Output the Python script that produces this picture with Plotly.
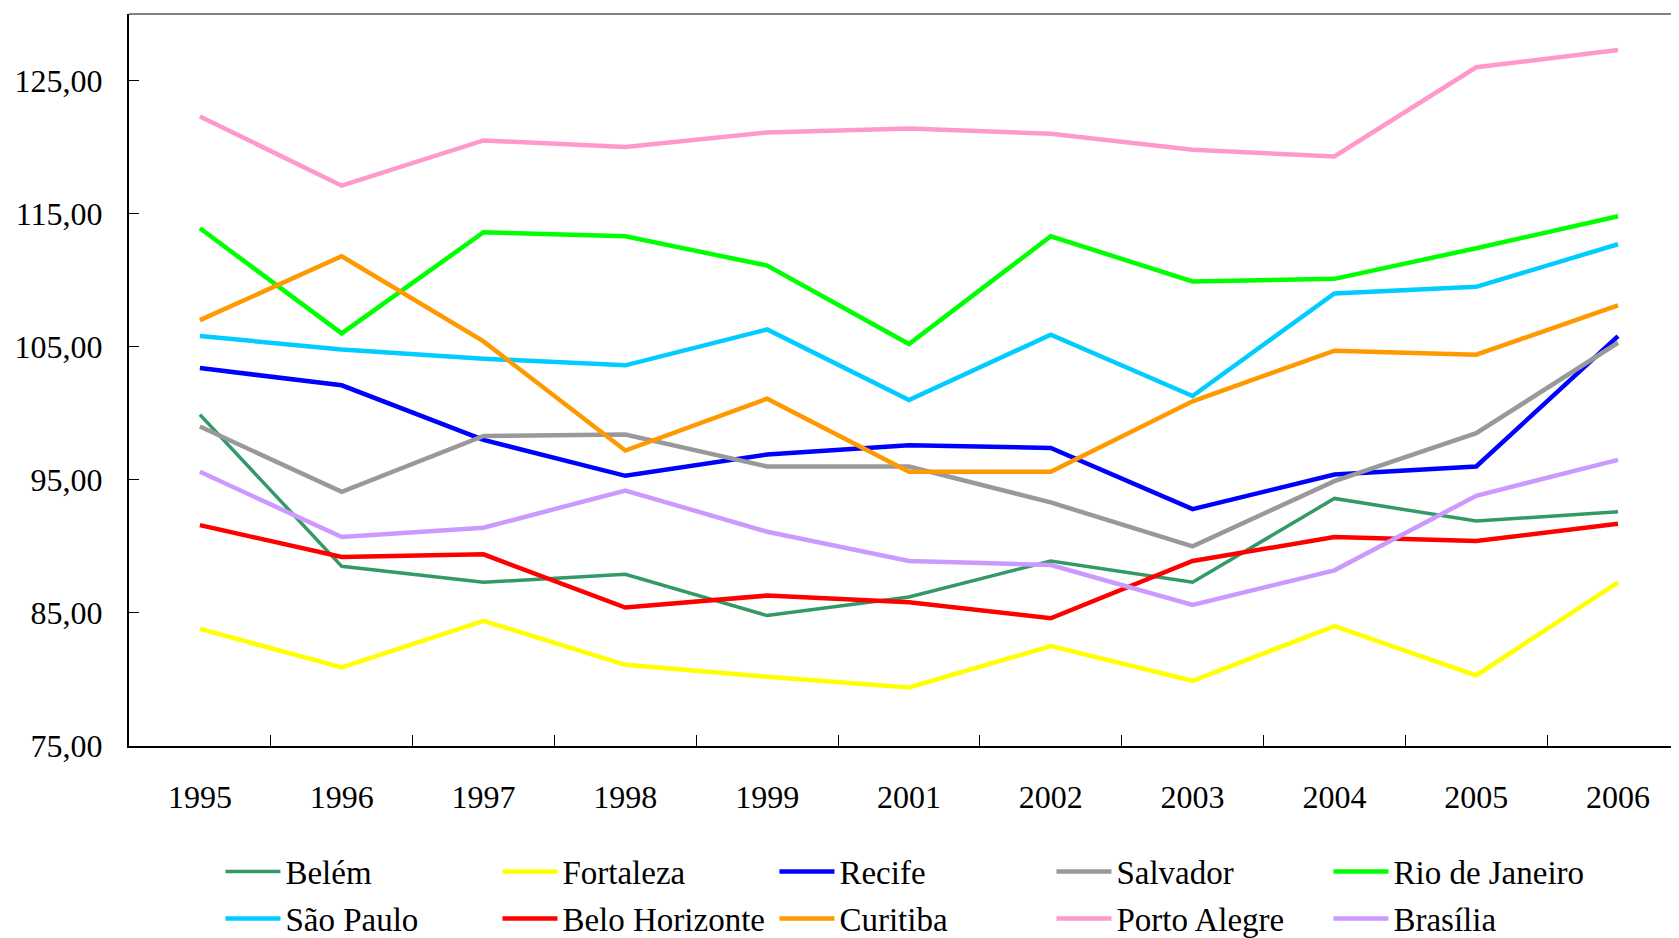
import plotly.graph_objects as go

years = ["1995", "1996", "1997", "1998", "1999", "2001", "2002", "2003", "2004", "2005", "2006"]

belem = [99.9, 88.5, 87.3, 87.9, 84.8, 86.2, 88.9, 87.3, 93.6, 91.9, 92.6]
fortaleza = [83.8, 80.9, 84.4, 81.1, 80.2, 79.4, 82.5, 79.9, 84.0, 80.3, 87.3]
recife = [103.4, 102.1, 98.0, 95.3, 96.9, 97.6, 97.4, 92.8, 95.4, 96.0, 105.8]
salvador = [99.0, 94.1, 98.3, 98.4, 96.0, 96.0, 93.3, 90.0, 94.9, 98.5, 105.3]
rio = [113.9, 106.0, 113.6, 113.3, 111.1, 105.2, 113.3, 109.9, 110.1, 112.4, 114.8]
sao_paulo = [105.8, 104.8, 104.1, 103.6, 106.3, 101.0, 105.9, 101.3, 109.0, 109.5, 112.7]
belo_horizonte = [91.6, 89.2, 89.4, 85.4, 86.3, 85.8, 84.6, 88.9, 90.7, 90.4, 91.7]
curitiba = [107.0, 111.8, 105.4, 97.2, 101.1, 95.6, 95.6, 100.9, 104.7, 104.4, 108.1]
porto_alegre = [122.3, 117.1, 120.5, 120.0, 121.1, 121.4, 121.0, 119.8, 119.3, 126.0, 127.3]
brasilia = [95.6, 90.7, 91.4, 94.2, 91.1, 88.9, 88.6, 85.6, 88.2, 93.8, 96.5]

series = [
    ("Belém", belem, "#339966", 3.5, "legend"),
    ("Fortaleza", fortaleza, "#FFFF00", 4.5, "legend"),
    ("Recife", recife, "#0000FF", 4.5, "legend"),
    ("Salvador", salvador, "#999999", 4.5, "legend"),
    ("Rio de Janeiro", rio, "#00FF00", 4.5, "legend"),
    ("São Paulo", sao_paulo, "#00CCFF", 4.5, "legend2"),
    ("Belo Horizonte", belo_horizonte, "#FF0000", 4.5, "legend2"),
    ("Curitiba", curitiba, "#FF9900", 4.5, "legend2"),
    ("Porto Alegre", porto_alegre, "#FF99CC", 4.5, "legend2"),
    ("Brasília", brasilia, "#CC99FF", 4.5, "legend2"),
]

FONT = "Liberation Serif, Times New Roman, serif"

fig = go.Figure()
for name, vals, color, w, leg in series:
    fig.add_trace(go.Scatter(x=years, y=vals, name=name, mode="lines", legend=leg,
                             line=dict(color=color, width=w)))

leg_common = dict(orientation="h", xanchor="left", yanchor="top",
                  font=dict(family=FONT, size=33, color="black"),
                  itemwidth=55, entrywidth=207, entrywidthmode="pixels",
                  bgcolor="rgba(0,0,0,0)", borderwidth=0)

fig.update_layout(
    width=1679, height=938,
    paper_bgcolor="white", plot_bgcolor="white",
    margin=dict(l=121, r=8, t=6, b=200, autoexpand=False),
    separators=",.",
    font=dict(family=FONT, size=32, color="black"),
    showlegend=True,
    legend=dict(x=0.059, y=-0.1331, **leg_common),
    legend2=dict(x=0.059, y=-0.1974, **leg_common),
    shapes=[dict(type="line", xref="paper", yref="paper", x0=0, x1=1, y0=1, y1=1,
                 line=dict(color="#808080", width=2))],
)

fig.update_xaxes(type="category", range=[-0.5, 10.43], tickson="boundaries",
                 ticks="inside", ticklen=11, tickcolor="black", tickwidth=1,
                 showline=True, linecolor="black", linewidth=2, showgrid=False,
                 zeroline=False, ticklabelstandoff=22,
                 tickfont=dict(family=FONT, size=32, color="black"))
fig.update_yaxes(range=[75, 130], tick0=75, dtick=10, tickformat=".2f",
                 ticks="inside", ticklen=10, tickcolor="black", tickwidth=1,
                 showline=True, linecolor="black", linewidth=2, showgrid=False,
                 zeroline=False, ticklabelstandoff=18,
                 tickfont=dict(family=FONT, size=32, color="black"))

fig.write_html("out.html")
